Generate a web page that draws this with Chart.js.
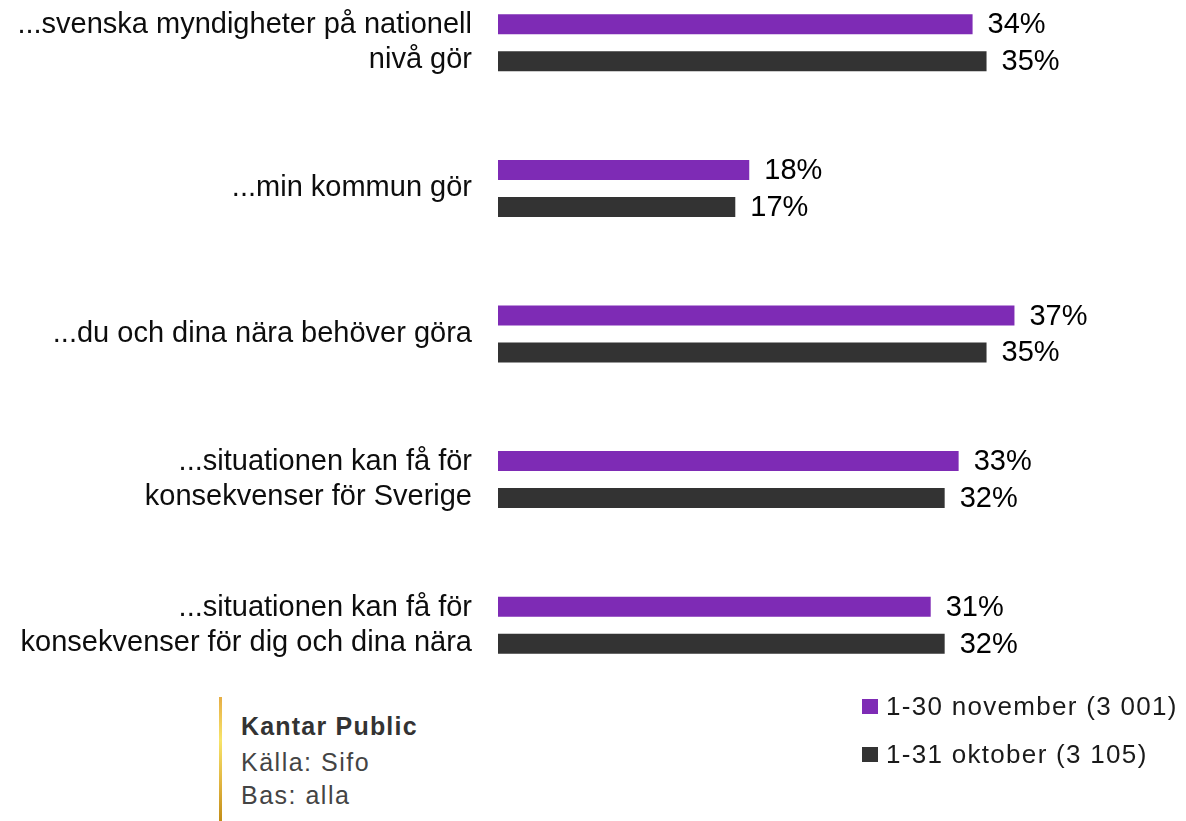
<!DOCTYPE html>
<html><head><meta charset="utf-8">
<script src="https://cdn.jsdelivr.net/npm/chart.js@4"></script>
<style>
html,body{margin:0;padding:0;background:#fff;}
body{width:1186px;height:821px;overflow:hidden;position:relative;font-family:'Liberation Sans',Arial,sans-serif;}
#wrap{position:absolute;left:0;top:-30px;width:1186px;height:728px;}
.sq{position:absolute;left:862px;width:16px;height:15px;}
.lt{position:absolute;left:886px;font-size:26px;letter-spacing:1.3px;color:#1a1a1a;line-height:30px;white-space:nowrap;}
#bar{position:absolute;left:219px;top:697px;width:3px;height:124px;background:linear-gradient(to bottom,#e6ae45 0%,#f7e46a 35%,#e0b440 70%,#c28d17 100%);}
.ft{position:absolute;left:241px;font-size:25px;line-height:30px;white-space:nowrap;color:#444;letter-spacing:1.5px;}
</style></head>
<body>
<div id="wrap"><canvas id="c"></canvas></div>
<div class="sq" style="top:699px;background:#7e2bb5"></div>
<div class="lt" style="top:691px">1-30 november (3 001)</div>
<div class="sq" style="top:747px;background:#333333"></div>
<div class="lt" style="top:739px">1-31 oktober (3 105)</div>
<div id="bar"></div>
<div class="ft" style="top:711px;color:#333;font-weight:bold;letter-spacing:1.2px">Kantar Public</div>
<div class="ft" style="top:747px">Källa: Sifo</div>
<div class="ft" style="top:780px">Bas: alla</div>
<script>
const categories = [
  ['...svenska myndigheter på nationell', 'nivå gör'],
  '...min kommun gör',
  '...du och dina nära behöver göra',
  ['...situationen kan få för', 'konsekvenser för Sverige'],
  ['...situationen kan få för', 'konsekvenser för dig och dina nära']
];
const seriesNames = ['1-30 november (3 001)', '1-31 oktober (3 105)'];
const novemberValues = [34, 18, 37, 33, 31];
const oktoberValues = [35, 17, 35, 32, 32];
const seriesColors = ['#7e2bb5', '#333333'];

Chart.defaults.font.family = "'Liberation Sans', Arial, sans-serif";

const valueLabels = {
  id: 'valueLabels',
  afterDatasetsDraw(chart) {
    const ctx = chart.ctx;
    ctx.save();
    ctx.font = "29px 'Liberation Sans', Arial, sans-serif";
    ctx.fillStyle = '#000';
    ctx.textAlign = 'left';
    ctx.textBaseline = 'middle';
    chart.data.datasets.forEach((ds, di) => {
      chart.getDatasetMeta(di).data.forEach((el, i) => {
        ctx.fillText(ds.data[i] + '%', el.x + 15, el.y + 1);
      });
    });
    ctx.restore();
  }
};

new Chart(document.getElementById('c'), {
  type: 'bar',
  data: {
    labels: categories,
    datasets: [
      { label: seriesNames[0], data: novemberValues, backgroundColor: seriesColors[0], categoryPercentage: 0.508, barPercentage: 0.54, clip: false },
      { label: seriesNames[1], data: oktoberValues, backgroundColor: seriesColors[1], categoryPercentage: 0.508, barPercentage: 0.54, clip: false }
    ]
  },
  options: {
    indexAxis: 'y',
    responsive: true,
    maintainAspectRatio: false,
    devicePixelRatio: 1,
    animation: false,
    layout: { padding: { left: 0, right: 18, top: 0, bottom: 0 } },
    plugins: { legend: { display: false }, tooltip: { enabled: false } },
    scales: {
      x: { display: false, min: 0, max: 48 },
      y: {
        grid: { display: false, drawTicks: false },
        border: { display: false },
        ticks: { color: '#0d0d0d', padding: 26, font: { size: 29, lineHeight: 1.2 }, autoSkip: false },
        afterFit(scale) { scale.width = 498; scale.paddingTop = 0; scale.paddingBottom = 0; }
      }
    }
  },
  plugins: [valueLabels]
});
</script>
</body></html>
